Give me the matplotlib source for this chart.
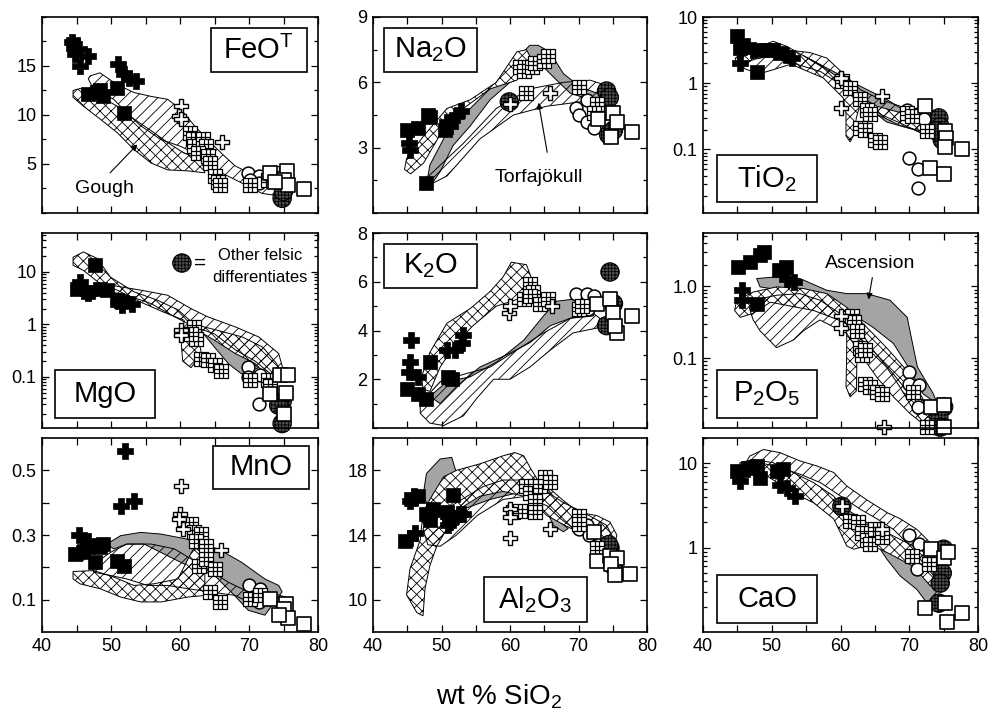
import matplotlib
matplotlib.use('Agg')
import matplotlib.pyplot as plt
from matplotlib.path import Path
from matplotlib.patches import Rectangle
from matplotlib.ticker import LogLocator, MultipleLocator, NullFormatter

plt.rcParams['font.family'] = ['Liberation Sans', 'DejaVu Sans']
plt.rcParams['mathtext.default'] = 'regular'
plt.rcParams['hatch.linewidth'] = 0.6

# ---------------- data (wt % SiO2, oxide) ----------------
# FeOT
FEO_SQ = [(44.5, 17.2), (46.7, 12.1), (48.0, 12.3), (48.4, 12.6), (48.9, 11.9), (50.9, 12.8), (51.9, 10.2)]
FEO_PLUS = [(44.3, 17.4), (45.3, 16.7), (44.8, 16.2), (46.7, 16.0), (45.5, 15.0), (51.0, 15.2), (51.9, 14.2), (52.6, 13.8), (53.6, 13.5)]
FEO_OPLUS = [(60.1, 10.9), (59.9, 9.9), (60.1, 9.6), (66.1, 7.2)]
FEO_GRID = [(61.5, 8.2), (61.9, 7.5), (62.1, 6.8), (63.3, 7.5), (63.8, 6.8), (62.6, 6.1), (64.0, 5.8), (64.3, 5.1),
            (65.0, 3.8), (65.5, 3.2), (65.8, 2.9), (70.1, 2.9), (72.8, 3.4), (73.3, 4.1)]
FEO_CIRC = [(69.9, 4.1), (71.4, 3.8), (71.4, 3.1), (70.1, 3.4)]
FEO_OSQ = [(73.1, 4.1), (75.5, 4.3), (75.0, 3.4), (75.7, 2.9), (78.0, 2.4), (73.8, 3.2)]
FEO_DARK = [(74.8, 1.5), (75.0, 2.2)]
FEO_HATCH = [(46.7, 13.7), (47.0, 14.0), (48.4, 14.3), (50.9, 13.1), (53.3, 12.3), (55.8, 11.9), (58.2, 11.6), (60.1, 10.6),
             (62.1, 8.9), (64.0, 7.5), (66.0, 6.1), (68.0, 4.8), (70.0, 4.1), (72.8, 3.4), (74.8, 2.7), (74.8, 1.7),
             (71.9, 2.0), (68.0, 3.4), (64.0, 4.8), (62.1, 6.1), (60.1, 6.8), (57.2, 7.5), (54.3, 8.9), (52.3, 10.2),
             (50.4, 11.6), (47.5, 12.6)]
FEO_CROSS = [(44.5, 12.5), (45.5, 12.7), (48.4, 11.9), (50.9, 10.9), (53.3, 9.6), (55.8, 8.4), (58.2, 7.2), (60.6, 6.1),
             (63.1, 5.5), (63.6, 4.1), (61.1, 4.3), (58.2, 4.4), (55.8, 5.1), (53.3, 6.5), (50.9, 8.2), (48.4, 9.6),
             (46.0, 10.9), (44.5, 11.8)]
FEO_GRAY = [(53.3, 9.0), (58.0, 7.0), (63.1, 5.3), (63.1, 4.9), (58.0, 6.6), (53.3, 8.6)]

# Na2O
NA_SQ = [(44.9, 3.8), (46.5, 3.9), (48.1, 4.5), (48.3, 4.4), (50.5, 3.8), (47.8, 1.4)]
NA_PLUS = [(45.2, 3.2), (45.4, 2.9), (50.8, 4.2), (52.2, 4.5), (52.9, 4.7), (51.2, 4.0)]
NA_OPLUS = [(60.0, 5.0), (65.8, 5.5)]
NA_GRID = [(61.5, 6.7), (62.0, 6.5), (63.2, 6.7), (63.6, 6.9), (64.9, 7.0), (65.6, 7.2), (62.4, 5.5), (70.0, 5.8),
           (72.7, 5.0), (72.2, 4.6)]
NA_CIRC = [(71.2, 5.2), (69.7, 4.8), (70.0, 4.5), (71.2, 4.2), (72.2, 3.9)]
NA_OSQ = [(72.9, 4.3), (75.1, 4.6), (75.6, 4.2), (74.8, 3.5), (77.8, 3.7)]
NA_DARK = [(59.9, 5.1), (74.1, 5.6), (74.5, 5.3), (74.4, 3.6), (75.1, 3.8)]
NA_GRAY = [(47.8, 1.3), (48.3, 2.2), (50.8, 3.7), (54.2, 4.8), (58.0, 6.0), (61.0, 7.1), (62.9, 7.7), (64.1, 7.7),
           (65.8, 7.4), (67.8, 6.4), (70.2, 5.8), (72.7, 5.5), (74.1, 5.4), (74.1, 4.9), (71.7, 5.2), (68.8, 5.5),
           (66.8, 6.1), (64.9, 6.7), (62.9, 6.4), (60.0, 6.0), (57.1, 5.2), (54.2, 4.0), (51.7, 3.1), (49.8, 1.9),
           (48.3, 1.2)]
NA_CROSS = [(44.9, 2.5), (47.3, 3.5), (50.8, 4.8), (54.2, 5.2), (58.0, 6.0), (61.0, 7.4), (62.4, 7.5), (62.9, 7.2),
            (61.0, 6.1), (57.1, 5.7), (53.2, 4.8), (49.8, 3.6), (47.4, 2.3), (45.5, 1.8), (44.6, 2.0)]
NA_HATCH = [(47.8, 1.6), (53.2, 3.2), (58.0, 4.8), (62.9, 5.7), (67.8, 6.0), (71.7, 6.1), (74.6, 5.8), (74.6, 5.2),
            (70.2, 5.1), (65.3, 4.9), (60.5, 4.5), (55.6, 3.4), (50.8, 1.7), (48.3, 1.3)]

# TiO2
TI_SQ = [(44.9, 5.1), (45.4, 3.4), (48.3, 3.2), (49.3, 3.2), (47.8, 1.5), (50.2, 3.2), (51.2, 2.9)]
TI_PLUS = [(45.4, 2.0), (46.4, 3.6), (47.3, 3.2), (52.0, 2.7), (52.9, 2.4)]
TI_OPLUS = [(60.0, 1.2), (60.0, 0.42), (66.0, 0.64)]
TI_GRID = [(60.2, 1.07), (61.4, 0.85), (62.9, 0.57), (63.8, 0.4), (64.3, 0.34), (62.9, 0.21), (63.6, 0.2), (65.0, 0.14),
           (65.8, 0.13), (69.7, 0.36), (70.4, 0.32), (72.6, 0.19)]
TI_CIRC = [(69.7, 0.4), (71.2, 0.34), (72.2, 0.29), (70.0, 0.075), (71.2, 0.05), (71.2, 0.026)]
TI_OSQ = [(72.3, 0.45), (75.2, 0.19), (75.4, 0.15), (75.2, 0.11), (77.7, 0.10), (73.0, 0.053), (75.0, 0.042)]
TI_DARK = [(74.3, 0.3), (74.5, 0.22), (74.8, 0.14), (74.0, 0.19)]
TI_HATCH = [(44.7, 2.4), (47.3, 2.9), (49.3, 3.2), (53.2, 3.1), (55.6, 2.9), (58.0, 2.4), (60.4, 1.4), (62.9, 0.8),
            (65.8, 0.57), (68.7, 0.45), (71.6, 0.32), (74.5, 0.23), (74.5, 0.14), (71.6, 0.18), (68.7, 0.25),
            (65.8, 0.34), (62.9, 0.57), (60.0, 0.96), (57.1, 1.5), (53.2, 2.0), (50.2, 1.6), (48.3, 1.4), (46.4, 1.6),
            (44.9, 1.9)]
TI_CROSS = [(44.9, 2.5), (48.3, 3.6), (50.2, 4.3), (52.2, 3.6), (54.6, 2.6), (58.0, 1.6), (60.4, 1.1), (62.9, 0.63),
            (65.3, 0.45), (68.7, 0.36), (71.9, 0.29), (73.5, 0.22), (72.6, 0.18), (68.7, 0.23), (65.3, 0.34),
            (62.9, 0.5), (62.3, 0.3), (62.0, 0.17), (61.4, 0.13), (60.8, 0.16), (60.8, 0.35), (60.4, 0.6), (57.5, 1.2),
            (53.0, 1.9), (50.0, 2.6), (47.5, 2.3), (45.5, 1.9)]
TI_GRAY = [(54.6, 2.6), (59.0, 1.5), (62.9, 0.9), (66.7, 0.57), (70.6, 0.32), (73.5, 0.23), (73.5, 0.15), (70.6, 0.2),
           (66.7, 0.26), (63.8, 0.45), (60.9, 0.9), (57.0, 1.9)]

# MgO
MG_SQ = [(47.7, 13.4), (45.0, 4.8), (46.7, 4.2), (48.4, 4.8), (49.4, 4.5), (50.9, 2.9), (51.6, 2.7)]
MG_PLUS = [(45.5, 6.4), (46.7, 3.9), (51.6, 2.3), (53.1, 2.5)]
MG_OPLUS = [(60.1, 0.77), (60.1, 0.62)]
MG_GRID = [(62.1, 0.9), (62.3, 0.54), (61.6, 0.67), (63.1, 0.22), (64.0, 0.21), (65.0, 0.17), (66.0, 0.13),
           (70.1, 0.088), (72.8, 0.088), (73.0, 0.066)]
MG_CIRC = [(69.9, 0.155), (69.9, 0.1), (71.6, 0.11), (71.4, 0.031)]
MG_OSQ = [(74.5, 0.11), (75.7, 0.11), (73.0, 0.048), (75.3, 0.05), (75.0, 0.02)]
MG_DARK = [(74.8, 0.013), (74.8, 0.034), (74.3, 0.029)]
MG_CROSS = [(44.5, 19), (46.0, 24), (48.0, 18), (49.9, 8), (53.3, 4.2), (56.7, 2.9), (59.7, 1.9), (62.1, 1.0),
            (65.0, 0.8), (69.0, 0.58), (72.0, 0.37), (74.0, 0.18), (74.8, 0.11), (72.8, 0.1), (70.9, 0.18),
            (68.0, 0.28), (65.0, 0.5), (62.6, 0.77), (62.6, 0.6), (63.1, 0.28), (61.6, 0.15), (60.4, 0.2),
            (60.2, 0.4), (60.6, 1.2), (57.7, 1.7), (54.2, 2.7), (50.9, 4.5), (48.4, 6.0), (46.0, 10.7), (44.5, 13.4)]
MG_HATCH = [(49.9, 5.6), (54.3, 4.5), (58.2, 3.6), (61.6, 2.0), (64.0, 1.4), (68.0, 0.9), (71.4, 0.58), (74.3, 0.28),
            (75.0, 0.13), (73.3, 0.11), (70.9, 0.2), (68.0, 0.33), (65.0, 0.66), (62.1, 0.9), (59.2, 1.4), (55.8, 2.5),
            (52.3, 3.6), (49.9, 4.2)]
MG_GRAY = [(62.6, 0.77), (67.0, 0.43), (69.4, 0.24), (71.4, 0.15), (68.9, 0.115), (67.0, 0.18), (65.0, 0.37),
           (63.6, 0.62)]

# K2O
K_SQ = [(44.9, 1.6), (46.6, 1.4), (47.8, 1.2), (48.3, 2.7), (51.0, 2.1), (51.5, 2.0)]
K_PLUS = [(45.6, 3.6), (45.4, 2.7), (45.2, 2.3), (46.6, 2.1), (50.8, 3.2), (52.0, 3.2), (53.2, 3.8), (53.0, 3.5)]
K_OPLUS = [(59.8, 4.7), (60.0, 5.0), (66.1, 5.0)]
K_GRID = [(62.9, 5.9), (63.4, 5.6), (62.0, 5.3), (62.9, 5.4), (64.4, 5.1), (65.6, 5.3), (70.0, 4.9), (70.5, 5.0)]
K_CIRC = [(69.7, 5.5), (71.2, 5.5), (72.2, 5.4), (71.4, 4.9)]
K_OSQ = [(72.7, 5.1), (74.6, 5.3), (75.1, 4.7), (77.8, 4.6), (75.6, 3.9), (75.3, 4.2)]
K_DARK = [(74.6, 6.4), (74.1, 4.2), (75.1, 5.1)]
K_CROSS = [(47.1, 2.1), (48.3, 3.1), (50.8, 4.3), (54.2, 4.9), (57.1, 5.6), (59.0, 6.2), (60.2, 6.8), (62.4, 6.7),
           (63.2, 6.1), (62.4, 5.4), (58.0, 5.0), (54.6, 4.2), (52.2, 3.5), (49.8, 2.5), (48.3, 1.5), (47.3, 1.6)]
K_GRAY = [(48.3, 1.3), (50.8, 1.9), (54.2, 2.1), (58.0, 2.7), (62.0, 3.6), (64.9, 4.6), (66.8, 5.2), (69.7, 5.3),
          (72.2, 5.2), (72.2, 4.6), (68.8, 4.5), (65.9, 4.2), (62.9, 3.5), (59.5, 3.0), (55.6, 2.5), (52.2, 1.7),
          (49.8, 1.0)]
K_HATCH = [(46.9, 1.0), (49.8, 1.9), (53.2, 2.2), (57.1, 2.5), (61.0, 3.2), (64.9, 3.9), (68.8, 4.5), (72.2, 4.7),
           (73.1, 4.5), (72.7, 4.1), (69.2, 3.9), (65.9, 3.2), (62.9, 2.5), (60.0, 2.0), (57.6, 2.0), (55.1, 1.2),
           (53.2, 0.5), (50.3, 0.1), (48.3, 0.2), (46.9, 0.6)]

# P2O5
P_SQ = [(45.1, 1.86), (46.8, 2.2), (48.3, 2.7), (48.8, 3.0), (51.0, 1.67), (52.0, 1.86), (47.8, 0.57)]
P_PLUS = [(45.6, 0.88), (45.6, 0.64), (52.2, 1.28), (53.2, 1.15)]
P_OPLUS = [(60.0, 0.39), (60.0, 0.26), (66.3, 0.011)]
P_GRID = [(61.7, 0.39), (61.9, 0.32), (62.4, 0.24), (62.9, 0.14), (63.1, 0.11), (63.6, 0.13), (63.6, 0.044),
          (64.3, 0.04), (65.3, 0.034), (66.0, 0.032), (70.6, 0.034), (72.6, 0.011)]
P_CIRC = [(69.9, 0.064), (69.9, 0.044), (71.4, 0.042), (71.2, 0.021)]
P_OSQ = [(73.1, 0.021), (75.0, 0.022), (75.0, 0.011)]
P_DARK = [(75.0, 0.021), (74.3, 0.015), (74.5, 0.011)]
P_GRAY = [(47.8, 1.28), (50.7, 1.35), (54.1, 1.28), (58.0, 0.88), (60.9, 0.79), (63.8, 0.79), (67.2, 0.64),
          (69.7, 0.37), (70.6, 0.14), (71.2, 0.075), (73.5, 0.032), (74.1, 0.023), (72.0, 0.032), (70.2, 0.067),
          (67.7, 0.16), (64.7, 0.27), (60.9, 0.46), (57.0, 0.64), (53.2, 0.83), (48.3, 0.98)]
P_CROSS = [(44.9, 0.64), (47.3, 0.83), (50.7, 0.98), (54.6, 0.93), (58.0, 0.79), (60.9, 0.51), (63.8, 0.27),
           (66.7, 0.14), (69.2, 0.075), (71.1, 0.039), (72.6, 0.021), (74.5, 0.011), (72.6, 0.011), (70.6, 0.019),
           (68.7, 0.039), (66.7, 0.075), (63.8, 0.14), (62.6, 0.2), (62.4, 0.1), (62.3, 0.035), (61.4, 0.029),
           (60.8, 0.04), (60.9, 0.12), (60.9, 0.3), (59.7, 0.34), (56.1, 0.46), (49.8, 0.6), (47.3, 0.42),
           (45.4, 0.37), (44.6, 0.46)]
P_HATCH = [(46.7, 0.51), (48.3, 0.67), (50.7, 0.75), (54.1, 0.79), (57.0, 0.64), (59.9, 0.42), (62.9, 0.24),
           (64.7, 0.13), (67.7, 0.06), (69.7, 0.035), (72.1, 0.019), (74.1, 0.014), (72.1, 0.012), (70.1, 0.017),
           (67.7, 0.029), (65.3, 0.054), (62.9, 0.115), (60.9, 0.22), (57.0, 0.34), (54.6, 0.24), (53.2, 0.18),
           (50.7, 0.14), (48.3, 0.24), (47.3, 0.34)]

# MnO
MN_SQ = [(44.8, 0.241), (46.0, 0.246), (47.5, 0.267), (48.4, 0.262), (47.7, 0.216), (50.9, 0.221), (51.9, 0.205),
         (48.9, 0.272), (46.7, 0.262)]
MN_PLUS = [(52.1, 0.561), (51.4, 0.39), (53.3, 0.405), (45.4, 0.30), (45.5, 0.246), (46.7, 0.28)]
MN_OPLUS = [(60.1, 0.451), (60.0, 0.364), (60.4, 0.318), (66.0, 0.254), (59.9, 0.349)]
MN_GRID = [(61.6, 0.333), (62.1, 0.308), (63.1, 0.303), (62.3, 0.282), (63.8, 0.267), (62.8, 0.205), (63.8, 0.226),
           (65.0, 0.195), (64.4, 0.124), (65.8, 0.093), (70.1, 0.103), (71.6, 0.113)]
MN_CIRC = [(70.0, 0.144), (71.6, 0.134), (71.4, 0.093)]
MN_OSQ = [(73.1, 0.103), (75.3, 0.088), (75.0, 0.072), (75.7, 0.042), (78.0, 0.026), (74.3, 0.052)]
MN_DARK = []
MN_GRAY = [(49.4, 0.272), (51.4, 0.298), (54.3, 0.308), (57.2, 0.303), (61.1, 0.287), (65.5, 0.257), (68.9, 0.216),
           (72.3, 0.164), (74.3, 0.144), (74.8, 0.124), (72.3, 0.052), (69.9, 0.067), (67.9, 0.113), (65.0, 0.175),
           (61.1, 0.205), (54.8, 0.272), (52.3, 0.272), (50.4, 0.257)]
MN_CROSS = [(44.5, 0.187), (47.5, 0.19), (50.4, 0.17), (53.3, 0.144), (56.2, 0.149), (59.7, 0.164), (61.4, 0.236),
            (62.1, 0.262), (63.1, 0.246), (63.6, 0.175), (63.6, 0.113), (61.1, 0.108), (57.3, 0.093), (54.3, 0.093),
            (51.4, 0.108), (48.4, 0.134), (45.5, 0.149), (44.5, 0.164)]
MN_HATCH = [(47.2, 0.205), (49.9, 0.246), (52.3, 0.272), (55.8, 0.272), (59.2, 0.257), (61.6, 0.226), (64.0, 0.195),
            (67.0, 0.154), (69.9, 0.124), (72.8, 0.124), (75.3, 0.108), (75.3, 0.083), (69.9, 0.093), (68.0, 0.113),
            (61.1, 0.134), (58.2, 0.144), (55.3, 0.144), (52.3, 0.164), (49.9, 0.175), (47.5, 0.185)]

# Al2O3
AL_SQ = [(44.7, 13.6), (45.6, 16.2), (46.6, 16.4), (47.8, 15.3), (48.3, 14.9), (48.8, 15.6), (51.7, 16.5),
         (50.8, 15.4), (51.5, 15.1)]
AL_PLUS = [(45.4, 16.1), (46.0, 16.4), (45.4, 13.8), (46.1, 14.1), (52.5, 15.3), (53.2, 15.3), (51.2, 14.8),
           (51.0, 14.6)]
AL_OPLUS = [(60.0, 15.6), (60.0, 15.1), (60.0, 13.8), (65.8, 14.4)]
AL_GRID = [(60.5, 15.4), (61.5, 15.5), (62.4, 17.0), (62.9, 16.6), (63.6, 16.1), (63.6, 15.4), (64.4, 17.0),
           (65.1, 17.6), (65.8, 17.3), (70.0, 15.2), (70.0, 14.7), (72.7, 13.2)]
AL_CIRC = [(70.0, 14.4), (71.2, 14.6), (71.5, 14.0)]
AL_OSQ = [(72.2, 14.2), (72.7, 12.4), (74.6, 12.7), (75.6, 12.6), (74.8, 12.2), (75.3, 11.5), (77.5, 11.6)]
AL_DARK = [(74.6, 13.2), (74.4, 13.4), (75.1, 12.1)]
AL_GRAY = [(47.3, 16.4), (47.8, 17.8), (49.8, 18.7), (51.5, 18.8), (52.2, 17.8), (55.6, 16.9), (59.5, 17.4),
           (62.9, 17.2), (65.4, 16.9), (66.3, 16.4), (67.3, 14.8), (68.5, 14.4), (67.8, 14.2), (66.3, 14.6),
           (64.9, 16.0), (61.0, 16.6), (57.1, 16.2), (53.2, 15.6), (50.5, 15.8), (48.5, 15.5)]
AL_CROSS = [(47.3, 15.4), (48.3, 16.2), (50.3, 17.6), (52.2, 18.0), (55.6, 18.4), (59.0, 18.9), (60.7, 19.1),
            (62.0, 18.9), (62.9, 18.2), (64.9, 16.8), (67.8, 16.0), (70.7, 15.4), (74.1, 14.6), (75.1, 13.8),
            (73.7, 13.3), (71.8, 13.8), (69.9, 14.2), (68.0, 14.6), (65.4, 15.2), (63.9, 15.8), (62.0, 16.4),
            (59.0, 16.7), (55.6, 16.4), (52.2, 15.5), (50.8, 14.4), (49.3, 13.3), (48.3, 12.1), (47.6, 10.7),
            (47.3, 9.0), (46.4, 9.2), (44.9, 10.3), (45.4, 11.9), (46.9, 13.7)]
AL_HATCH = [(47.3, 14.4), (48.3, 15.0), (52.2, 16.0), (56.1, 17.0), (59.0, 17.4), (62.0, 17.4), (64.9, 17.2),
            (67.6, 16.2), (70.0, 15.4), (72.7, 15.2), (74.6, 14.8), (75.6, 14.0), (75.1, 13.1), (71.3, 13.8),
            (69.3, 14.4), (67.4, 15.0), (65.4, 15.8), (62.4, 16.4), (59.0, 16.2), (55.2, 15.2), (52.2, 14.0),
            (49.8, 13.3), (48.0, 13.4)]

# CaO
CA_SQ = [(44.9, 8.1), (46.6, 8.9), (47.8, 9.3), (48.3, 6.8), (50.7, 8.1), (51.7, 8.5)]
CA_PLUS = [(45.4, 6.2), (45.6, 7.4), (51.2, 5.6), (52.2, 5.1), (53.4, 4.1)]
CA_OPLUS = [(60.2, 3.1), (66.0, 1.65)]
CA_GRID = [(61.4, 2.1), (62.6, 2.0), (63.1, 1.5), (63.8, 1.25), (64.3, 1.1), (65.0, 1.65), (66.0, 1.35), (70.4, 0.8),
           (72.8, 0.64)]
CA_CIRC = [(69.9, 1.4), (71.4, 1.1), (71.1, 0.56)]
CA_OSQ = [(73.1, 0.96), (75.0, 0.76), (75.7, 0.9), (75.2, 0.22), (72.3, 0.19), (75.5, 0.13), (77.7, 0.17)]
CA_DARK = [(60.2, 3.1), (75.0, 0.96), (74.8, 0.5), (74.5, 0.38), (74.3, 0.22)]
CA_HATCH = [(46.8, 12.2), (48.8, 14.6), (51.2, 13.4), (54.1, 10.7), (56.6, 9.3), (59.0, 7.8), (60.9, 5.4), (63.8, 3.7),
            (66.8, 2.6), (68.7, 2.2), (71.1, 1.65), (72.6, 1.25), (74.0, 0.87), (73.6, 0.46), (72.0, 0.66),
            (70.6, 0.96), (67.7, 1.65), (65.3, 2.2), (62.9, 2.85), (60.0, 4.1), (57.1, 5.9), (54.2, 7.4), (51.2, 8.9),
            (48.3, 10.2), (46.4, 10.7)]
CA_CROSS = [(45.4, 10.2), (47.3, 11.1), (50.2, 10.2), (53.1, 7.8), (56.1, 5.9), (59.0, 4.1), (60.9, 2.6), (62.9, 2.0),
            (65.8, 1.65), (68.7, 1.25), (71.6, 0.96), (73.6, 0.66), (74.0, 0.46), (73.1, 0.35), (70.6, 0.6),
            (67.7, 0.8), (65.8, 0.96), (63.8, 1.05), (61.9, 0.96), (60.9, 1.05), (60.0, 1.5), (59.0, 2.2),
            (56.1, 3.4), (53.1, 4.5), (49.3, 7.1), (46.4, 8.5), (45.2, 9.3)]
CA_GRAY = [(60.9, 2.85), (63.8, 2.0), (66.8, 1.5), (68.7, 1.05), (70.6, 0.66), (72.6, 0.42), (74.0, 0.3), (72.6, 0.22),
           (71.1, 0.32), (68.7, 0.46), (66.8, 0.72), (65.3, 1.1), (63.8, 1.3), (61.9, 2.0)]

# panel settings: label, grid cell, y limits, log axis, y ticks, y tick labels, label box (axes fraction)
PANELS = [
    ('FeO$^T$', (0, 0), (0, 20), False, [5, 10, 15], ['5', '10', '15'], (0.612, 0.72, 0.348, 0.224),
     (FEO_GRAY, FEO_CROSS, FEO_HATCH), (FEO_DARK, FEO_CIRC, FEO_GRID, FEO_OSQ, FEO_OPLUS, FEO_SQ, FEO_PLUS)),
    ('Na$_2$O', (0, 1), (0, 9), False, [3, 6, 9], ['3', '6', '9'], (0.04, 0.72, 0.34, 0.224),
     (NA_GRAY, NA_CROSS, NA_HATCH), (NA_DARK, NA_CIRC, NA_GRID, NA_OSQ, NA_OPLUS, NA_SQ, NA_PLUS)),
    ('TiO$_2$', (0, 2), (0.011, 10), True, [0.1, 1, 10], ['0.1', '1', '10'], (0.051, 0.056, 0.364, 0.24),
     (TI_GRAY, TI_CROSS, TI_HATCH), (TI_DARK, TI_CIRC, TI_GRID, TI_OSQ, TI_OPLUS, TI_SQ, TI_PLUS)),
    ('MgO', (1, 0), (0.0107, 55), True, [0.1, 1, 10], ['0.1', '1', '10'], (0.047, 0.051, 0.362, 0.246),
     (MG_GRAY, MG_CROSS, MG_HATCH), (MG_DARK, MG_CIRC, MG_GRID, MG_OSQ, MG_OPLUS, MG_SQ, MG_PLUS)),
    ('K$_2$O', (1, 1), (0, 8), False, [2, 4, 6, 8], ['2', '4', '6', '8'], (0.04, 0.718, 0.34, 0.226),
     (K_GRAY, K_CROSS, K_HATCH), (K_DARK, K_CIRC, K_GRID, K_OSQ, K_OPLUS, K_SQ, K_PLUS)),
    ('P$_2$O$_5$', (1, 2), (0.0107, 5.5), True, [0.1, 1.0], ['0.1', '1.0'], (0.051, 0.051, 0.364, 0.246),
     (P_GRAY, P_CROSS, P_HATCH), (P_DARK, P_CIRC, P_GRID, P_OSQ, P_OPLUS, P_SQ, P_PLUS)),
    ('MnO', (2, 0), (0, 0.6), False, [0.1, 0.2, 0.3, 0.4, 0.5], ['0.1', '', '0.3', '', '0.5'],
     (0.62, 0.737, 0.347, 0.222),
     (MN_GRAY, MN_CROSS, MN_HATCH), (MN_DARK, MN_CIRC, MN_GRID, MN_OSQ, MN_OPLUS, MN_SQ, MN_PLUS)),
    ('Al$_2$O$_3$', (2, 1), (8, 20), False, [10, 12, 14, 16, 18], ['10', '', '14', '', '18'],
     (0.405, 0.052, 0.375, 0.232),
     (AL_GRAY, AL_CROSS, AL_HATCH), (AL_DARK, AL_CIRC, AL_GRID, AL_OSQ, AL_OPLUS, AL_SQ, AL_PLUS)),
    ('CaO', (2, 2), (0.1, 20), True, [1, 10], ['1', '10'], (0.051, 0.046, 0.364, 0.248),
     (CA_GRAY, CA_CROSS, CA_HATCH), (CA_DARK, CA_CIRC, CA_GRID, CA_OSQ, CA_OPLUS, CA_SQ, CA_PLUS)),
]

X_TICKS = [40, 45, 50, 55, 60, 65, 70, 75, 80]
X_LABELS = ['40', '', '50', '', '60', '', '70', '', '80']

# ---------------- marker styles ----------------
GRID_MARK = Path(
    [(-0.5, -0.5), (0.5, -0.5), (0.5, 0.5), (-0.5, 0.5), (-0.5, -0.5),
     (-1 / 6, -0.5), (-1 / 6, 0.5), (1 / 6, -0.5), (1 / 6, 0.5),
     (-0.5, -1 / 6), (0.5, -1 / 6), (-0.5, 1 / 6), (0.5, 1 / 6)],
    [Path.MOVETO, Path.LINETO, Path.LINETO, Path.LINETO, Path.CLOSEPOLY,
     Path.MOVETO, Path.LINETO, Path.MOVETO, Path.LINETO,
     Path.MOVETO, Path.LINETO, Path.MOVETO, Path.LINETO])

STYLES = [
    dict(marker='o', s=175, facecolor='#505050', edgecolor='black', linewidths=0.8, hatch='+++++'),
    dict(marker='o', s=85, facecolor='white', edgecolor='black', linewidths=1.1),
    dict(marker=GRID_MARK, s=90, facecolor='white', edgecolor='black', linewidths=0.9),
    dict(marker='s', s=95, facecolor='white', edgecolor='black', linewidths=1.2),
    dict(marker='P', s=115, facecolor='white', edgecolor='black', linewidths=1.0),
    dict(marker='s', s=95, facecolor='black', edgecolor='black', linewidths=0.5),
    dict(marker='P', s=125, facecolor='black', edgecolor='black', linewidths=0.5),
]

W, H = 993, 717
COL_X = [(42, 276), (373, 274), (703, 275)]
ROW_Y = [(17, 213), (233, 428), (438, 632)]

fig = plt.figure(figsize=(W / 100, H / 100), dpi=100)
axes = {}

for label, (r, c), ylim, logy, yt, ytl, box, regions, groups in PANELS:
    left, width = COL_X[c]
    top, bottom = ROW_Y[r]
    ax = fig.add_axes([left / W, 1 - bottom / H, width / W, (bottom - top) / H])
    axes[label] = ax

    gray, cross, hatch = regions
    ax.fill(*zip(*gray), facecolor='#a4a4a4', edgecolor='black', linewidth=0.7, zorder=1)
    ax.fill(*zip(*cross), facecolor='white', edgecolor='black', hatch='xxx', linewidth=0.7, zorder=2)
    ax.fill(*zip(*hatch), facecolor='none', edgecolor='black', hatch='///', linewidth=0.7, zorder=3)

    for pts, st in zip(groups, STYLES):
        if pts:
            xs, ys = zip(*pts)
            ax.scatter(xs, ys, zorder=5, clip_on=False, **st)

    ax.set_xlim(40, 80)
    if logy:
        ax.set_yscale('log')
    ax.set_ylim(*ylim)
    ax.set_xticks(X_TICKS, X_LABELS if r == 2 else [''] * len(X_TICKS))
    ax.set_yticks(yt, ytl)
    if logy:
        ax.yaxis.set_minor_locator(LogLocator(base=10, subs=range(2, 10), numticks=20))
        ax.yaxis.set_minor_formatter(NullFormatter())
    elif label.startswith('FeO'):
        ax.yaxis.set_minor_locator(MultipleLocator(2.5))
    elif label.startswith('Na'):
        ax.yaxis.set_minor_locator(MultipleLocator(1.5))
    elif label.startswith('K'):
        ax.yaxis.set_minor_locator(MultipleLocator(1))
    ax.tick_params(which='both', direction='in', top=True, right=True, width=0.9, labelsize=13, pad=4)
    ax.tick_params(which='major', length=5)
    ax.tick_params(which='minor', length=3)
    for sp in ax.spines.values():
        sp.set_linewidth(1.2)
        sp.set_zorder(12)

    bx, by, bw, bh = box
    ax.add_patch(Rectangle((bx, by), bw, bh, transform=ax.transAxes, facecolor='white',
                           edgecolor='black', linewidth=1.2, zorder=10))
    ax.text(bx + bw / 2, by + bh / 2, label, transform=ax.transAxes, ha='center', va='center',
            fontsize=21, zorder=11)

# annotations
ax = axes['FeO$^T$']
ax.text(44.8, 2.5, 'Gough', fontsize=14, ha='left', va='center', zorder=11)
ax.annotate('', xy=(54.1, 7.2), xytext=(49.6, 3.9),
            arrowprops=dict(arrowstyle='-|>', color='black', lw=0.8, mutation_scale=9), zorder=11)

ax = axes['Na$_2$O']
ax.text(57.8, 1.65, 'Torfajökull', fontsize=14, ha='left', va='center', zorder=11)
ax.annotate('', xy=(64.1, 5.19), xytext=(65.5, 2.66),
            arrowprops=dict(arrowstyle='-|>', color='black', lw=0.8, mutation_scale=9), zorder=11)

ax = axes['P$_2$O$_5$']
ax.text(57.7, 2.1, 'Ascension', fontsize=14, ha='left', va='center', zorder=11)
ax.annotate('', xy=(64.0, 0.6), xytext=(64.7, 1.44),
            arrowprops=dict(arrowstyle='-|>', color='black', lw=0.8, mutation_scale=9), zorder=11)

ax = axes['MgO']
ax.scatter([0.507], [0.846], transform=ax.transAxes, zorder=11, **STYLES[0])
ax.text(0.572, 0.846, '=', transform=ax.transAxes, fontsize=15, ha='center', va='center', zorder=11)
ax.text(0.79, 0.887, 'Other felsic', transform=ax.transAxes, fontsize=12, ha='center', va='center', zorder=11)
ax.text(0.79, 0.774, 'differentiates', transform=ax.transAxes, fontsize=12, ha='center', va='center', zorder=11)

fig.text(0.503, 0.028, 'wt % SiO$_2$', fontsize=20, ha='center', va='center')

fig.savefig('out.png', dpi=100)
